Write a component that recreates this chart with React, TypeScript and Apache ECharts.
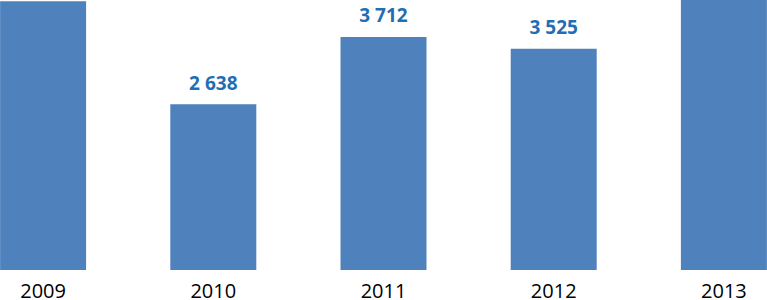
import React, { useEffect, useRef } from "react";
import * as echarts from "echarts";

const categories = ["2009", "2010", "2011", "2012", "2013"];
const values = [4280, 2638, 3712, 3525, 4400];

function fmt(v: number): string {
  return String(v).replace(/\B(?=(\d{3})+(?!\d))/g, " ");
}

export default function App() {
  const ref = useRef<HTMLDivElement>(null);
  useEffect(() => {
    if (!ref.current) return;
    const chart = echarts.init(ref.current, null, { renderer: "svg" });
    chart.setOption({
      animation: false,
      backgroundColor: "#ffffff",
      grid: { left: 0, right: 0, top: 0, bottom: 30, containLabel: false },
      xAxis: {
        type: "category",
        data: categories,
        axisLine: { show: false },
        axisTick: { show: false },
        axisLabel: {
          color: "#000000",
          fontFamily: "Open Sans",
          fontSize: 20,
          lineHeight: 20,
          margin: 10,
        },
      },
      yAxis: {
        type: "value",
        min: 0,
        max: 5000,
        show: false,
        splitLine: { show: false },
      },
      series: [
        {
          type: "bar",
          data: values,
          barWidth: 86,
          itemStyle: { color: "#4F81BD" },
          label: {
            show: true,
            position: "top",
            distance: 12,
            color: "#1F6FB5",
            fontFamily: "Open Sans",
            fontWeight: "bold",
            fontSize: 19,
            formatter: (p: any) => fmt(p.value),
          },
        },
      ],
    });
    return () => chart.dispose();
  }, []);
  return (
    <div
      style={{
        position: "fixed",
        left: 0,
        top: 0,
        width: 767,
        height: 300,
        overflow: "hidden",
        background: "#ffffff",
      }}
    >
      <div
        ref={ref}
        style={{ position: "absolute", left: -42, top: -44, width: 851, height: 344 }}
      />
    </div>
  );
}
